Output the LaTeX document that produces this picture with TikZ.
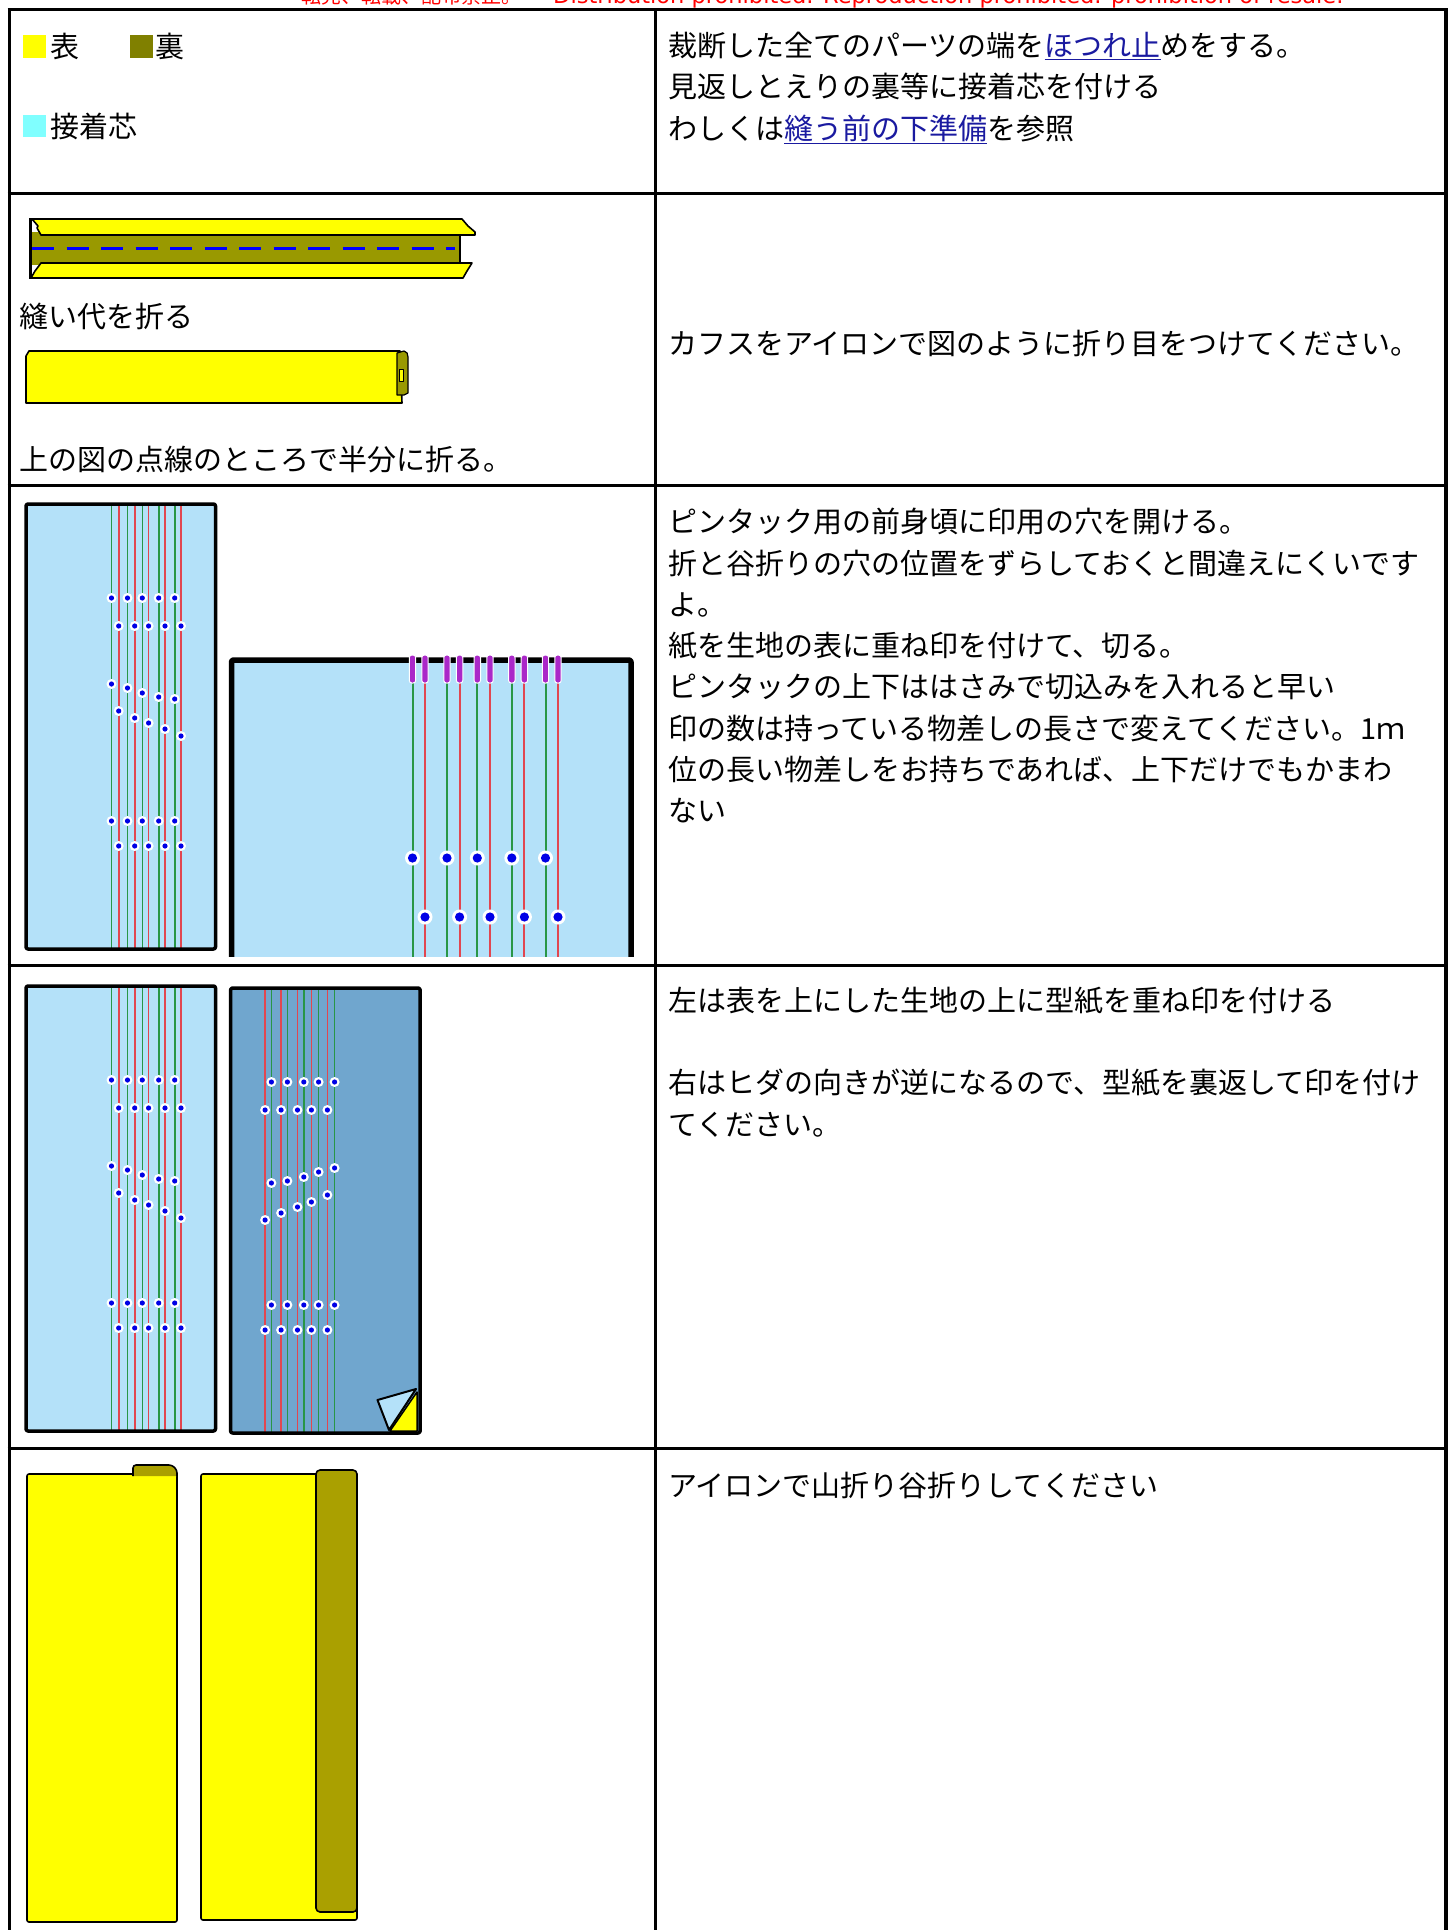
\documentclass[tikz,border=0pt]{standalone}
\usepackage{fontspec}
\setmainfont{Noto Sans CJK JP}
\newfontfamily\wmfont{DejaVu Sans}
\usepackage{tikz}
\usepackage{xcolor}
\usetikzlibrary{positioning}
\definecolor{cYellow}{RGB}{255,255,0}
\definecolor{cOlive}{RGB}{128,128,0}
\definecolor{cOliveA}{RGB}{153,153,0}
\definecolor{cOliveB}{RGB}{170,160,0}
\definecolor{cFuse}{RGB}{128,255,255}
\definecolor{cSky}{RGB}{180,225,249}
\definecolor{cSteel}{RGB}{112,166,206}
\definecolor{cGreen}{RGB}{40,150,70}
\definecolor{cRed}{RGB}{225,70,80}
\definecolor{cDot}{RGB}{0,0,230}
\definecolor{cSlot}{RGB}{170,40,200}
\definecolor{cDash}{RGB}{0,0,255}
\definecolor{cLink}{RGB}{26,26,160}
\tikzset{
	tableline/.style={line width=3pt},
	% multi-line cells: base anchor sits on the last line
	celltext/.style={anchor=base west, align=left, inner sep=0pt, font={\fontsize{29pt}{41.3pt}\selectfont}},
	wmark/.style={anchor=base west, inner sep=0pt, red, font={\fontsize{20pt}{22pt}\selectfont}},
	% fabric drawing styles
	panel/.style={draw=black, line width=3.5pt, rounded corners=2pt},
	fabric/.style={draw=black, line width=1.6pt, fill=cYellow},
	tuckG/.style={cGreen, line width=1.6pt},
	tuckR/.style={cRed, line width=1.6pt},
	slot/.style={draw=white, fill=cSlot, line width=1pt, rounded corners=2.5pt},
}
\newcommand\weblink[1]{\textcolor{cLink}{\underline{#1}}}
\newcommand\hole[2]{\fill[white] (#1,#2) circle (5pt); \fill[cDot] (#1,#2) circle (2.6pt);}
\newcommand\bighole[2]{\fill[white] (#1,#2) circle (7.5pt); \fill[cDot] (#1,#2) circle (4.6pt);}
% pattern paper with tuck lines and marking holes
\newcommand\tuckpanel[1]{%
	\fill[#1] (26,504) rectangle (215.5,949);
	\foreach \x in {111.5,127.5,142.3,158.7,174.7} \draw[tuckG] (\x,504) -- (\x,949);
	\foreach \x in {118.7,134.7,148.6,165,181} \draw[tuckR] (\x,504) -- (\x,949);
	\foreach \x in {111.5,127.5,142.3,158.7,174.7} {\hole{\x}{598} \hole{\x}{821}}
	\foreach \x in {118.7,134.7,148.6,165,181} {\hole{\x}{626} \hole{\x}{846}}
	\foreach \x/\y in {111.5/684,127.5/688,142.3/693,158.7/697,174.7/699} {\hole{\x}{\y}}
	\foreach \x/\y in {118.7/711,134.7/718,148.6/723,165/729,181/736} {\hole{\x}{\y}}
	\draw[panel] (26,504) rectangle (215.5,949);
}

\begin{document}
\begin{tikzpicture}[x=1pt, y=-1pt, line join=round]
	\useasboundingbox (0,0) rectangle (1452,1930);
	\fill[white] (0,0) rectangle (1452,1930);
	\node[wmark] (wm) at (301,3) {転売、転載、配布禁止。\hspace{32pt}{\wmfont\fontsize{22.5pt}{24pt}\selectfont Distribution prohibited. Reproduction prohibited. prohibition of resale.}};

	% table
	\foreach \y in {9.5,193,485,965,1448} \draw[tableline] (7.5,\y) -- (1448,\y);
	\draw[tableline] (9,8) -- (9,1935);
	\draw[tableline] (655,8) -- (655,1935);
	\draw[tableline, line width=4pt] (1446,8) -- (1446,1935);

	% row 1: legend
	\fill[cYellow] (23,35) rectangle (46,58);
	\node[celltext] (omote) at (50,57.8) {表};
	\fill[cOlive] (130,35) rectangle (153,58);
	\node[celltext] (ura) at (155,57.8) {裏};
	\fill[cFuse] (23,115) rectangle (46,137);
	\node[celltext] (shin) at (50,137.7) {接着芯};
	\node[celltext] (note1) at (668,139.1) {裁断した全てのパーツの端を\weblink{ほつれ止}めをする。\\見返しとえりの裏等に接着芯を付ける\\わしくは\weblink{縫う前の下準備}を参照};

	% row 2: cuff, seam allowance folded
	\fill[cOliveA] (30,232) rectangle (460,265);
	\draw[line width=1.2pt] (460,234) -- (460,263);
	\draw[fabric] (32,219) -- (462,219) -- (468,226) -- (475,232) -- (475,235) -- (41,235) -- (37,228) -- (38,226) -- cycle;
	\draw[fabric] (41,263) -- (472,263) -- (467,271) -- (463,278) -- (31,278) -- (35,271) -- cycle;
	\draw[cDash, line width=3pt, dash pattern=on 22pt off 12.5pt] (32,248) -- (455,248);
	\draw[line width=3pt] (30,218) -- (30,279);
	\node[celltext] (fold1) at (19,327) {縫い代を折る};
	% cuff folded in half
	\draw[fabric] (26,356) -- (29,351) -- (400,351) -- (402,403) -- (26,403) -- cycle;
	\draw[fill=cOliveA, line width=1.2pt] (397,395) -- (397,353) -- (404,351) to[out=0, in=90] (408,357) -- (408,393) -- (404,395) -- cycle;
	\draw[fill=cYellow, line width=0.8pt] (399,369) rectangle (403,381);
	\node[celltext] (fold2) at (19,470) {上の図の点線のところで半分に折る。};
	\node[celltext] (note2) at (668,354) {カフスをアイロンで図のように折り目をつけてください。};

	% row 3: paper pattern and front bodice
	\tuckpanel{cSky}
	\begin{scope}
		\clip (224,645) rectangle (640,956);
		\fill[cSky] (231.5,660) rectangle (631,1000);
		\foreach \x in {412.5,447,477.3,511.8,545.5} {\draw[tuckG, line width=2pt] (\x,682) -- (\x,960); \bighole{\x}{858}}
		\foreach \x in {425,459.6,490,524.4,558} {\draw[tuckR, line width=2pt] (\x,682) -- (\x,960); \bighole{\x}{917}}
		\draw[panel, line width=5.5pt] (231.5,660) rectangle (631,1000);
		\foreach \x in {412.5,425,447,459.6,477.3,490,511.8,524.4,545.5,558} \draw[slot] (\x-3.2,655) rectangle (\x+3.2,683);
	\end{scope}
	\node[celltext] (note3) at (668,821.8) {ピンタック用の前身頃に印用の穴を開ける。\\折と谷折りの穴の位置をずらしておくと間違えにくいです\\よ。\\紙を生地の表に重ね印を付けて、切る。\\ピンタックの上下ははさみで切込みを入れると早い\\印の数は持っている物差しの長さで変えてください。1ｍ\\位の長い物差しをお持ちであれば、上下だけでもかまわ\\ない};

	% row 4: left and right fronts
	\begin{scope}[yshift=-482pt]
		\tuckpanel{cSky}
	\end{scope}
	\begin{scope}[shift={(446.1,484)}, xscale=-1]
		\tuckpanel{cSteel}
	\end{scope}
	\draw[black, line width=2pt, fill=cSky] (377.5,1400) -- (416,1389) -- (389,1430) -- cycle;
	\draw[black, line width=1.5pt, fill=cYellow] (417,1392) -- (417,1431) -- (390,1431) -- cycle;
	\node[celltext] (note4) at (668,1135) {左は表を上にした生地の上に型紙を重ね印を付ける\\[41.3pt]右はヒダの向きが逆になるので、型紙を裏返して印を付け\\てください。};

	% row 5: pressed tucks
	\draw[fabric, rounded corners=2pt] (27,1474) rectangle (177,1922);
	\draw[fill=cOliveB, line width=1.6pt, rounded corners=3pt] (133,1476) -- (133,1465) -- (172,1465) -- (177,1470) -- (177,1476);
	\draw[fabric, rounded corners=2pt] (201,1474) rectangle (357,1920);
	\draw[fill=cOliveB, line width=1.6pt, rounded corners=4pt] (316,1470) rectangle (357,1912);
	\node[celltext] (note5) at (668,1496) {アイロンで山折り谷折りしてください};
\end{tikzpicture}
\end{document}
